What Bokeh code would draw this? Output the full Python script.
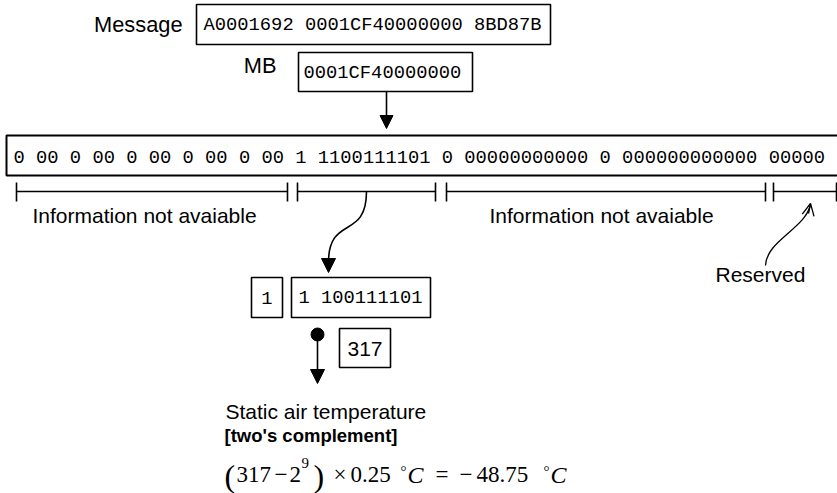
from bokeh.plotting import figure
from bokeh.models import Range1d, Arrow, NormalHead, OpenHead
from bokeh.core.properties import value
from bokeh.embed import file_html
from bokeh.resources import INLINE

# ---------------- content (texts and values) ----------------
message_label = "Message"
message_hex = "A0001692 0001CF40000000 8BD87B"
mb_label = "MB"
mb_hex = "0001CF40000000"
me_bits = "0 00 0 00 0 00 0 00 0 00 1 1100111101 0 00000000000 0 000000000000 00000"
field_labels = ["Information not avaiable", "Information not avaiable", "Reserved"]
sign_bit = "1"
value_bits = "1 100111101"
decimal_value = "317"
result_title = "Static air temperature"
result_note = "[two's complement]"
formula_tokens = ["(", "317", "\u2212", "2", "9", ")", "\u00d7", "0.25", "\u00b0", "C",
                  "=", "\u2212", "48.75", "\u00b0", "C"]

# ---------------- layout (pixel positions on the 837x493 page) ----------------
W, H = 837, 493
MONO = value("Liberation Mono")
SANS = value("Liberation Sans")
SERIF = value("Liberation Serif")
LW = 1.6
DY = -8  # text baseline correction

p = figure(width=W, height=H, output_backend="svg", toolbar_location=None,
           x_range=Range1d(0, W), y_range=Range1d(H, 0),
           x_axis_location=None, y_axis_location=None, min_border=0)
p.grid.visible = False
p.outline_line_color = None
p.background_fill_color = "white"
p.border_fill_color = "white"

# boxes: left, right, top, bottom
box_l = [196, 298, 6, 251, 291, 339]
box_r = [550, 472, 860, 282, 430, 390]
box_t = [4, 52, 135, 277, 277, 328]
box_b = [44, 91, 175, 317, 317, 367]
box_w = [LW, LW, 2.0, LW, LW, LW]
p.quad(left=box_l, right=box_r, top=box_t, bottom=box_b, fill_color=None,
       line_color="black", line_width=box_w)

# brackets under the bit string
br_l = [16, 297, 446, 773]
br_r = [287, 435, 765, 836]
br_y = 191
p.segment(x0=br_l, y0=[br_y] * 4, x1=br_r, y1=[br_y] * 4, line_color="black", line_width=LW)
tx = br_l + br_r
p.segment(x0=tx, y0=[182] * len(tx), x1=tx, y1=[201] * len(tx), line_color="black", line_width=LW)


def t(ys):
    return [y + DY for y in ys]


# monospace texts
p.text(x=[203, 303, 13, 298], y=t([32.5, 80, 165, 305]),
       text=[message_hex, mb_hex, me_bits, value_bits],
       text_font=MONO, text_font_size="18.8px", text_baseline="alphabetic",
       text_align="left", text_color="black")
p.text(x=[266.5], y=t([305]), text=[sign_bit], text_font=MONO, text_font_size="18.8px",
       text_baseline="alphabetic", text_align="center", text_color="black")

# sans labels
p.text(x=[182, 276], y=t([32, 73]), text=[message_label, mb_label], text_font=SANS,
       text_font_size="21.8px", text_baseline="alphabetic", text_align="right",
       text_color="black")
p.text(x=[32, 489, 715, 225], y=t([223, 223, 282, 419]),
       text=field_labels + [result_title], text_font=SANS, text_font_size="21px",
       text_baseline="alphabetic", text_align="left", text_color="black")
p.text(x=[364.5], y=t([356]), text=[decimal_value], text_font=SANS, text_font_size="21px",
       text_baseline="alphabetic", text_align="center", text_color="black")
p.text(x=[224], y=t([443]), text=[result_note], text_font=SANS, text_font_size="18.5px",
       text_font_style="bold", text_baseline="alphabetic", text_align="left",
       text_color="black")

# formula tokens
fx = [224, 236, 274, 289, 301, 313, 333, 350, 400, 407, 435, 459, 476, 543, 550]
fy = [483, 482, 482, 482, 470, 483, 482, 482, 478, 482, 482, 482, 482, 478, 482]
fs = ["32px", "23px", "23px", "23px", "15px", "32px", "23px", "23px", "15px", "24px",
      "23px", "23px", "23px", "15px", "24px"]
fst = ["normal"] * 9 + ["italic"] + ["normal"] * 4 + ["italic"]
p.text(x=fx, y=t(fy), text=formula_tokens, text_font=SERIF, text_font_size=fs,
       text_font_style=fst, text_baseline="alphabetic", text_align="left",
       text_color="black")

# straight arrow MB -> bits
p.add_layout(Arrow(end=NormalHead(size=13, fill_color="black", line_color="black"),
                   x_start=386, y_start=91, x_end=386, y_end=128,
                   line_color="black", line_width=LW))

# S-curve from the temperature field to the value boxes
p.bezier(x0=[366], y0=[191], x1=[328], y1=[262], cx0=[366], cy0=[240], cx1=[328],
         cy1=[214], line_color="black", line_width=LW)
p.add_layout(Arrow(end=NormalHead(size=14, fill_color="black", line_color="black"),
                   x_start=328, y_start=258, x_end=328, y_end=272,
                   line_color="black", line_width=LW))

# Reserved curve with open head
p.bezier(x0=[765], y0=[265], x1=[810], y1=[204], cx0=[766], cy0=[240], cx1=[805],
         cy1=[228], line_color="black", line_width=1.3)
p.add_layout(Arrow(end=OpenHead(size=12, line_color="black", line_width=1.3),
                   x_start=808, y_start=213, x_end=810, y_end=203,
                   line_color="black", line_width=1.3))

# dot + arrow down to result
p.scatter(x=[317], y=[334], size=13, marker="circle", fill_color="black", line_color="black")
p.add_layout(Arrow(end=NormalHead(size=14, fill_color="black", line_color="black"),
                   x_start=317, y_start=334, x_end=317, y_end=383,
                   line_color="black", line_width=LW))

open("out.html", "w").write(file_html(p, INLINE))
